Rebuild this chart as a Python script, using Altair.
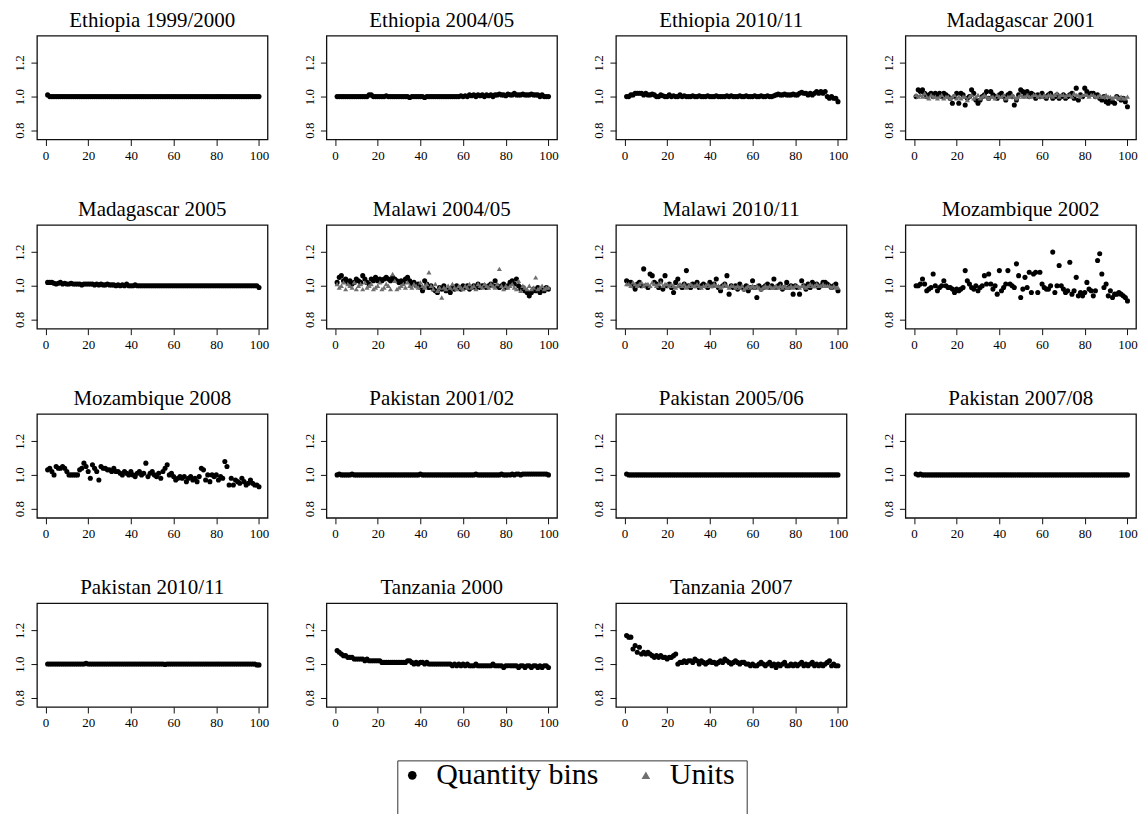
import altair as alt
import pandas as pd

titles = ["Ethiopia 1999/2000", "Ethiopia 2004/05", "Ethiopia 2010/11", "Madagascar 2001",
          "Madagascar 2005", "Malawi 2004/05", "Malawi 2010/11", "Mozambique 2002",
          "Mozambique 2008", "Pakistan 2001/02", "Pakistan 2005/06", "Pakistan 2007/08",
          "Pakistan 2010/11", "Tanzania 2000", "Tanzania 2007"]

percentiles = list(range(1, 101))

eth_1999 = [1.01, 1.00, 1.00, 1.00, 1.00, 1.00, 1.00, 1.00, 1.00, 1.00,
            1.00, 1.00, 1.00, 1.00, 1.00, 1.00, 1.00, 1.00, 1.00, 1.00,
            1.00, 1.00, 1.00, 1.00, 1.00, 1.00, 1.00, 1.00, 1.00, 1.00,
            1.00, 1.00, 1.00, 1.00, 1.00, 1.00, 1.00, 1.00, 1.00, 1.00,
            1.00, 1.00, 1.00, 1.00, 1.00, 1.00, 1.00, 1.00, 1.00, 1.00,
            1.00, 1.00, 1.00, 1.00, 1.00, 1.00, 1.00, 1.00, 1.00, 1.00,
            1.00, 1.00, 1.00, 1.00, 1.00, 1.00, 1.00, 1.00, 1.00, 1.00,
            1.00, 1.00, 1.00, 1.00, 1.00, 1.00, 1.00, 1.00, 1.00, 1.00,
            1.00, 1.00, 1.00, 1.00, 1.00, 1.00, 1.00, 1.00, 1.00, 1.00,
            1.00, 1.00, 1.00, 1.00, 1.00, 1.00, 1.00, 1.00, 1.00, 1.00]

eth_2004 = [1.00, 1.00, 1.00, 1.00, 1.00, 1.00, 1.00, 1.00, 1.00, 1.00,
            1.00, 1.00, 1.00, 1.00, 1.00, 1.01, 1.01, 1.00, 1.00, 1.00,
            1.00, 1.00, 1.00, 1.005, 1.00, 1.00, 1.00, 1.00, 1.00, 1.00,
            1.00, 1.00, 1.00, 1.00, 0.995, 1.00, 1.00, 1.00, 1.00, 1.00,
            1.00, 0.995, 1.00, 1.00, 1.00, 1.00, 1.00, 1.00, 1.00, 1.00,
            1.00, 1.00, 1.00, 1.00, 1.00, 1.00, 1.00, 1.00, 1.005, 1.00,
            1.005, 1.00, 1.01, 1.005, 1.01, 1.00, 1.01, 1.005, 1.01, 1.00,
            1.01, 1.005, 1.01, 1.00, 1.01, 1.01, 1.015, 1.01, 1.01, 1.005,
            1.015, 1.01, 1.01, 1.02, 1.01, 1.01, 1.01, 1.015, 1.01, 1.01,
            1.01, 1.015, 1.01, 1.01, 1.01, 1.00, 1.01, 1.00, 1.00, 1.00]

eth_2010 = [1.00, 1.00, 1.01, 1.01, 1.02, 1.02, 1.02, 1.02, 1.01, 1.02,
            1.01, 1.01, 1.015, 1.01, 1.00, 1.00, 1.01, 1.005, 1.00, 1.00,
            1.01, 1.00, 1.005, 1.00, 1.00, 1.01, 1.00, 1.005, 1.00, 1.00,
            1.00, 1.005, 1.00, 1.00, 1.005, 1.00, 1.00, 1.00, 1.005, 1.00,
            1.00, 1.00, 1.005, 1.00, 1.00, 1.00, 1.00, 1.005, 1.00, 1.005,
            1.00, 1.00, 1.00, 1.005, 1.00, 1.00, 1.005, 1.00, 1.00, 1.00,
            1.005, 1.00, 1.00, 1.005, 1.00, 1.00, 1.005, 1.00, 1.00, 1.005,
            1.01, 1.015, 1.01, 1.01, 1.015, 1.01, 1.01, 1.01, 1.015, 1.01,
            1.01, 1.02, 1.025, 1.02, 1.02, 1.01, 1.02, 1.01, 1.02, 1.03,
            1.02, 1.03, 1.02, 1.03, 1.00, 0.99, 1.00, 0.99, 0.99, 0.97]

mad_2001 = [1.00, 1.04, 1.03, 1.04, 1.02, 1.00, 1.01, 1.02, 1.00, 1.02,
            1.01, 1.02, 1.00, 1.02, 1.01, 1.00, 0.99, 0.96, 1.00, 1.02,
            0.96, 1.02, 1.01, 0.95, 0.99, 1.00, 1.04, 1.02, 0.98, 0.96,
            0.98, 1.00, 1.01, 1.03, 0.99, 1.03, 1.01, 1.00, 0.99, 1.01,
            1.02, 1.00, 0.98, 1.01, 1.02, 1.00, 0.95, 0.98, 1.01, 1.04,
            1.03, 1.01, 1.03, 1.00, 1.02, 1.01, 0.99, 1.01, 1.00, 1.02,
            1.00, 0.99, 1.01, 1.02, 0.99, 1.00, 1.01, 0.99, 1.00, 1.01,
            0.99, 1.00, 1.01, 1.02, 0.99, 1.05, 0.98, 1.01, 1.00, 1.05,
            1.03, 1.01, 1.02, 1.02, 1.00, 1.01, 0.99, 0.98, 1.00, 0.97,
            0.96, 0.98, 0.97, 0.96, 1.00, 0.99, 0.98, 0.99, 0.97, 0.94]

mad_2005 = [1.02, 1.02, 1.02, 1.015, 1.01, 1.015, 1.02, 1.01, 1.015, 1.01,
            1.01, 1.015, 1.01, 1.01, 1.01, 1.01, 1.005, 1.01, 1.01, 1.01,
            1.01, 1.01, 1.005, 1.01, 1.005, 1.01, 1.005, 1.005, 1.01, 1.005,
            1.005, 1.005, 1.00, 1.005, 1.00, 1.005, 1.00, 1.01, 1.00, 1.00,
            1.00, 1.005, 1.00, 1.00, 1.00, 1.00, 1.00, 1.00, 1.00, 1.00,
            1.00, 1.00, 1.00, 1.00, 1.00, 1.00, 1.00, 1.00, 1.00, 1.00,
            1.00, 1.00, 1.00, 1.00, 1.00, 1.00, 1.00, 1.00, 1.00, 1.00,
            1.00, 1.00, 1.00, 1.00, 1.00, 1.00, 1.00, 1.00, 1.00, 1.00,
            1.00, 1.00, 1.00, 1.00, 1.00, 1.00, 1.00, 1.00, 1.00, 1.00,
            1.00, 1.00, 1.00, 1.00, 1.00, 1.00, 1.00, 1.00, 1.00, 0.99]

mal_2004 = [1.02, 1.05, 1.06, 1.03, 1.04, 1.02, 1.03, 1.01, 1.02, 1.04,
            1.03, 1.02, 1.06, 1.04, 1.02, 1.01, 1.04, 1.03, 1.05, 1.03,
            1.04, 1.03, 1.04, 1.05, 1.04, 1.03, 1.05, 1.04, 1.03, 1.02,
            1.03, 1.02, 1.04, 1.05, 1.03, 1.01, 1.02, 1.00, 1.01, 0.99,
            0.97, 1.03, 1.01, 0.99, 1.00, 0.98, 0.97, 0.96, 0.99, 0.98,
            1.00, 0.97, 0.98, 0.96, 0.99, 0.98, 1.00, 0.99, 0.98, 1.00,
            0.99, 1.00, 0.98, 0.99, 1.00, 0.99, 1.01, 0.99, 1.00, 1.00,
            0.99, 1.00, 1.01, 1.00, 1.03, 1.00, 0.99, 1.00, 1.01, 0.99,
            1.00, 1.02, 1.03, 1.01, 1.04, 1.00, 0.98, 0.99, 0.97, 0.96,
            0.94, 0.96, 0.98, 0.97, 0.99, 0.96, 0.98, 0.97, 0.99, 0.98]

mal_2010 = [1.03, 1.02, 1.02, 1.00, 0.98, 1.01, 1.02, 1.00, 1.10, 1.00,
            0.99, 1.07, 1.06, 1.02, 1.01, 0.99, 1.03, 0.98, 1.06, 1.00,
            1.01, 0.99, 0.96, 1.02, 1.04, 1.00, 0.99, 1.01, 1.09, 1.00,
            0.99, 1.01, 1.00, 1.02, 0.99, 1.00, 1.01, 1.00, 0.99, 1.02,
            1.00, 1.01, 1.04, 0.99, 0.97, 1.00, 1.01, 1.06, 0.95, 1.00,
            0.99, 1.00, 0.98, 1.01, 0.99, 0.98, 1.00, 0.97, 0.99, 1.03,
            0.99, 0.93, 1.00, 0.98, 0.99, 1.00, 1.01, 0.99, 1.00, 1.04,
            0.99, 1.00, 1.01, 0.98, 0.99, 1.02, 0.99, 1.00, 0.95, 1.00,
            0.99, 0.95, 1.03, 1.00, 0.98, 1.01, 0.99, 1.02, 1.00, 1.01,
            0.99, 1.00, 1.02, 1.02, 1.01, 1.00, 0.99, 1.00, 1.01, 0.97]

moz_2002 = [1.00, 1.00, 1.01, 1.04, 1.01, 0.97, 0.98, 0.99, 1.07, 1.00,
            0.97, 0.99, 1.00, 1.03, 1.00, 0.99, 0.99, 0.98, 0.96, 0.98,
            0.97, 0.98, 0.99, 1.09, 1.03, 1.01, 0.99, 0.98, 1.00, 0.97,
            0.99, 1.00, 1.06, 1.01, 1.07, 1.01, 0.98, 1.00, 0.95, 1.09,
            0.97, 0.99, 1.01, 1.09, 1.01, 1.00, 0.99, 1.13, 1.06, 0.93,
            0.98, 1.05, 0.99, 1.08, 0.96, 1.07, 1.08, 0.96, 1.08, 1.01,
            0.99, 0.98, 0.98, 1.00, 1.20, 0.96, 1.00, 1.12, 1.00, 0.98,
            0.96, 0.97, 1.14, 0.95, 0.97, 1.05, 0.94, 0.96, 0.94, 0.96,
            1.02, 0.98, 0.97, 0.94, 0.97, 1.15, 1.19, 1.07, 0.99, 1.01,
            0.94, 0.97, 0.93, 0.95, 0.95, 0.96, 0.95, 0.94, 0.93, 0.91]

moz_2008 = [1.03, 1.04, 1.02, 1.00, 1.05, 1.04, 1.04, 1.05, 1.04, 1.02,
            1.00, 1.00, 1.00, 1.00, 1.00, 1.03, 1.04, 1.07, 1.05, 1.02,
            0.98, 1.06, 1.04, 1.02, 0.97, 1.05, 1.04, 1.04, 1.03, 1.03,
            1.02, 1.04, 1.02, 1.02, 1.01, 1.00, 1.02, 1.01, 1.00, 1.02,
            1.00, 0.99, 1.01, 1.02, 1.00, 1.01, 1.07, 0.99, 1.01, 1.02,
            1.00, 0.99, 1.01, 0.98, 1.02, 1.04, 1.06, 1.00, 1.01, 0.99,
            0.97, 0.98, 0.99, 0.98, 0.99, 0.96, 0.98, 0.99, 0.97, 0.98,
            0.96, 0.99, 1.04, 1.03, 0.97, 1.00, 0.96, 1.00, 0.99, 1.00,
            0.97, 0.99, 0.98, 1.08, 1.05, 0.94, 0.98, 0.94, 0.97, 0.96,
            0.95, 0.98, 0.96, 0.94, 0.95, 0.97, 0.95, 0.94, 0.94, 0.93]

pak_2001 = [1.00, 1.005, 1.00, 1.00, 1.00, 1.00, 1.00, 1.005, 1.00, 1.00,
            1.00, 1.00, 1.00, 1.00, 1.00, 1.00, 1.00, 1.00, 1.00, 1.00,
            1.00, 1.00, 1.00, 1.00, 1.00, 1.00, 1.00, 1.00, 1.00, 1.00,
            1.00, 1.00, 1.00, 1.00, 1.00, 1.00, 1.00, 1.00, 1.00, 1.005,
            1.00, 1.00, 1.00, 1.00, 1.00, 1.00, 1.00, 1.00, 1.00, 1.00,
            1.00, 1.00, 1.00, 1.00, 1.00, 1.00, 1.00, 1.00, 1.00, 1.00,
            1.00, 1.00, 1.00, 1.00, 1.00, 1.005, 1.00, 1.00, 1.00, 1.00,
            1.00, 1.00, 1.00, 1.00, 1.00, 1.00, 1.00, 1.005, 1.00, 1.00,
            1.00, 1.00, 1.005, 1.00, 1.005, 1.005, 1.00, 1.005, 1.005, 1.005,
            1.005, 1.005, 1.005, 1.005, 1.005, 1.005, 1.005, 1.005, 1.005, 1.00]

pak_2005 = [1.005, 1.00, 1.00, 1.00, 1.00, 1.00, 1.00, 1.00, 1.00, 1.00,
            1.00, 1.00, 1.00, 1.00, 1.00, 1.00, 1.00, 1.00, 1.00, 1.00,
            1.00, 1.00, 1.00, 1.00, 1.00, 1.00, 1.00, 1.00, 1.00, 1.00,
            1.00, 1.00, 1.00, 1.00, 1.00, 1.00, 1.00, 1.00, 1.00, 1.00,
            1.00, 1.00, 1.00, 1.00, 1.00, 1.00, 1.00, 1.00, 1.00, 1.00,
            1.00, 1.00, 1.00, 1.00, 1.00, 1.00, 1.00, 1.00, 1.00, 1.00,
            1.00, 1.00, 1.00, 1.00, 1.00, 1.00, 1.00, 1.00, 1.00, 1.00,
            1.00, 1.00, 1.00, 1.00, 1.00, 1.00, 1.00, 1.00, 1.00, 1.00,
            1.00, 1.00, 1.00, 1.00, 1.00, 1.00, 1.00, 1.00, 1.00, 1.00,
            1.00, 1.00, 1.00, 1.00, 1.00, 1.00, 1.00, 1.00, 1.00, 1.00]

pak_2007 = [1.005, 1.00, 1.005, 1.00, 1.00, 1.00, 1.00, 1.00, 1.00, 1.00,
            1.00, 1.00, 1.00, 1.00, 1.00, 1.00, 1.00, 1.00, 1.00, 1.00,
            1.00, 1.00, 1.00, 1.00, 1.00, 1.00, 1.00, 1.00, 1.00, 1.00,
            1.00, 1.00, 1.00, 1.00, 1.00, 1.00, 1.00, 1.00, 1.00, 1.00,
            1.00, 1.00, 1.00, 1.00, 1.00, 1.00, 1.00, 1.00, 1.00, 1.00,
            1.00, 1.00, 1.00, 1.00, 1.00, 1.00, 1.00, 1.00, 1.00, 1.00,
            1.00, 1.00, 1.00, 1.00, 1.00, 1.00, 1.00, 1.00, 1.00, 1.00,
            1.00, 1.00, 1.00, 1.00, 1.00, 1.00, 1.00, 1.00, 1.00, 1.00,
            1.00, 1.00, 1.00, 1.00, 1.00, 1.00, 1.00, 1.00, 1.00, 1.00,
            1.00, 1.00, 1.00, 1.00, 1.00, 1.00, 1.00, 1.00, 1.00, 1.00]

pak_2010 = [1.00, 1.00, 1.00, 1.00, 1.00, 1.00, 1.00, 1.00, 1.00, 1.00,
            1.00, 1.00, 1.00, 1.00, 1.00, 1.00, 1.00, 1.00, 1.005, 1.00,
            1.00, 1.00, 1.00, 1.00, 1.00, 1.00, 1.00, 1.00, 1.00, 1.00,
            1.00, 1.00, 1.00, 1.00, 1.00, 1.00, 1.00, 1.00, 1.00, 1.00,
            1.00, 1.00, 1.00, 1.00, 1.00, 1.00, 1.00, 1.00, 1.00, 1.00,
            1.00, 1.00, 1.00, 1.00, 1.00, 0.998, 1.00, 1.00, 1.00, 1.00,
            1.00, 1.00, 1.00, 1.00, 1.00, 1.00, 1.00, 1.00, 1.00, 1.00,
            1.00, 1.00, 1.00, 1.00, 1.00, 1.00, 1.00, 1.00, 1.00, 1.00,
            1.00, 1.00, 1.00, 1.00, 1.00, 1.00, 1.00, 1.00, 1.00, 1.00,
            1.00, 1.00, 1.00, 1.00, 1.00, 1.00, 1.00, 1.00, 0.995, 0.995]

tan_2000 = [1.08, 1.07, 1.06, 1.05, 1.05, 1.04, 1.04, 1.04, 1.03, 1.03,
            1.03, 1.03, 1.03, 1.02, 1.03, 1.02, 1.02, 1.02, 1.02, 1.02,
            1.02, 1.01, 1.01, 1.01, 1.01, 1.01, 1.01, 1.01, 1.01, 1.01,
            1.01, 1.01, 1.01, 1.02, 1.02, 1.01, 1.00, 1.01, 1.00, 1.01,
            1.01, 1.00, 1.01, 1.00, 1.00, 1.00, 1.00, 1.00, 1.00, 1.00,
            1.00, 1.00, 1.00, 1.00, 0.99, 1.00, 0.99, 1.00, 0.99, 1.00,
            0.99, 1.00, 0.99, 0.99, 0.99, 1.00, 0.99, 0.99, 0.99, 0.99,
            0.99, 0.99, 0.99, 1.00, 0.99, 0.99, 0.99, 0.99, 0.98, 0.99,
            0.99, 0.99, 0.99, 0.99, 0.99, 0.98, 0.99, 0.99, 0.98, 0.99,
            0.99, 0.98, 0.99, 0.99, 0.98, 0.99, 0.98, 0.99, 0.99, 0.98]

tan_2007 = [1.17, 1.16, 1.16, 1.09, 1.11, 1.07, 1.10, 1.06, 1.07, 1.06,
            1.07, 1.06, 1.05, 1.04, 1.05, 1.04, 1.05, 1.04, 1.04, 1.03,
            1.04, 1.04, 1.05, 1.06, 1.00, 1.01, 1.01, 1.02, 1.01, 1.02,
            1.02, 1.01, 1.03, 1.02, 1.00, 1.02, 1.01, 1.00, 1.01, 1.02,
            1.01, 1.01, 1.00, 1.01, 1.02, 1.01, 1.03, 1.02, 1.01, 1.00,
            1.01, 1.02, 1.01, 1.00, 1.01, 1.01, 1.00, 1.00, 0.99, 1.00,
            0.99, 0.99, 1.00, 1.01, 1.00, 0.99, 1.00, 1.01, 0.99, 1.00,
            0.98, 1.00, 0.99, 1.00, 1.01, 0.99, 0.99, 1.00, 0.99, 1.00,
            0.99, 1.00, 1.01, 0.99, 1.00, 0.99, 1.00, 1.01, 0.99, 1.00,
            0.99, 1.00, 0.99, 1.00, 1.01, 1.02, 0.99, 1.00, 0.99, 0.99]

# "Units" series (grey triangles)
mad_2001_units = [1.01, 1.00, 1.01, 1.00, 1.02, 1.00, 0.99, 1.01, 1.00, 1.00,
                  0.99, 1.00, 1.01, 0.99, 1.00, 1.00, 0.99, 1.00, 1.01, 0.99,
                  1.00, 0.99, 1.00, 1.00, 0.98, 1.00, 1.01, 0.99, 1.00, 1.01,
                  0.99, 1.00, 1.01, 1.00, 0.99, 1.00, 1.00, 0.99, 1.01, 1.00,
                  1.00, 1.01, 0.99, 1.00, 1.00, 1.01, 1.00, 0.99, 1.00, 1.01,
                  1.00, 1.00, 1.01, 1.00, 1.00, 1.01, 1.01, 1.00, 1.01, 1.00,
                  1.01, 1.00, 1.01, 1.01, 1.00, 1.01, 1.02, 1.00, 1.01, 1.01,
                  1.00, 1.01, 1.01, 1.00, 1.02, 1.01, 1.01, 1.00, 1.01, 1.01,
                  1.01, 1.00, 1.01, 1.01, 1.00, 1.00, 1.01, 1.00, 1.00, 1.01,
                  1.00, 1.00, 0.99, 1.00, 1.00, 0.99, 1.00, 0.99, 0.99, 1.00]

mal_2004_units = [1.01, 0.99, 1.00, 1.02, 0.98, 1.01, 1.00, 0.99, 1.02, 0.98,
                  1.00, 1.01, 0.98, 1.02, 0.99, 1.00, 1.01, 0.98, 0.99, 1.00,
                  1.02, 0.98, 0.99, 1.01, 1.00, 0.98, 1.07, 1.03, 0.98, 0.99,
                  1.00, 1.01, 0.99, 1.02, 1.00, 0.99, 1.01, 1.00, 0.99, 1.02,
                  1.00, 0.99, 1.01, 1.08, 1.00, 0.98, 1.01, 0.97, 0.99, 0.93,
                  0.99, 0.98, 1.00, 0.99, 1.01, 0.99, 0.98, 1.00, 0.99, 0.98,
                  1.00, 0.99, 1.01, 0.99, 1.00, 0.98, 1.01, 1.00, 0.99, 1.01,
                  1.00, 0.99, 1.01, 1.00, 0.99, 1.01, 1.10, 1.00, 0.98, 1.00,
                  0.99, 1.00, 1.01, 0.99, 0.98, 1.03, 0.97, 1.00, 0.99, 0.98,
                  1.00, 0.98, 0.99, 1.05, 0.98, 0.99, 1.00, 0.98, 0.99, 0.99]

mal_2010_units = [1.01, 1.01, 1.00, 1.02, 1.01, 1.00, 1.01, 1.02, 1.00, 1.01,
                  1.01, 1.00, 1.02, 1.01, 1.00, 1.01, 1.02, 1.00, 1.01, 1.01,
                  1.00, 1.01, 1.00, 0.99, 1.00, 1.01, 1.00, 1.01, 0.99, 1.00,
                  1.01, 1.00, 1.00, 1.01, 1.00, 0.99, 1.00, 1.00, 1.01, 1.00,
                  1.00, 1.01, 1.00, 1.00, 0.99, 1.00, 1.01, 1.00, 0.99, 1.00,
                  1.00, 0.99, 1.00, 0.99, 1.00, 0.98, 0.99, 1.00, 0.99, 1.00,
                  0.99, 1.00, 0.99, 0.98, 0.99, 1.00, 0.99, 1.00, 0.99, 0.99,
                  1.00, 0.99, 1.00, 0.99, 1.00, 0.99, 0.99, 1.00, 0.99, 1.00,
                  1.00, 0.99, 1.00, 1.00, 0.99, 1.00, 1.01, 1.00, 1.00, 1.01,
                  1.00, 1.00, 1.01, 1.00, 1.00, 1.00, 0.99, 1.00, 0.99, 0.99]

quantity_series = [eth_1999, eth_2004, eth_2010, mad_2001, mad_2005, mal_2004, mal_2010,
                   moz_2002, moz_2008, pak_2001, pak_2005, pak_2007, pak_2010, tan_2000, tan_2007]
units_series = {"Madagascar 2001": mad_2001_units,
                "Malawi 2004/05": mal_2004_units,
                "Malawi 2010/11": mal_2010_units}

series_names = ["Quantity bins", "Units"]

rows = []
for title, vals in zip(titles, quantity_series):
    for p, v in zip(percentiles, vals):
        rows.append({"panel": title, "pct": p, "ratio": v, "series": series_names[0]})
    if title in units_series:
        for p, v in zip(percentiles, units_series[title]):
            rows.append({"panel": title, "pct": p, "ratio": v, "series": series_names[1]})
df = pd.DataFrame(rows)

SERIF = "Liberation Serif"

color_scale = alt.Scale(domain=series_names, range=["#000000", "#6f6f6f"])
shape_scale = alt.Scale(domain=series_names, range=["circle", "triangle-up"])

legend = alt.Legend(title=" ", titleOrient="right", titleFontSize=60, titlePadding=12,
                    titleAnchor="start", titleBaseline="top",
                    orient="none", legendX=361, legendY=726, direction="horizontal",
                    labelFont=SERIF, labelFontSize=30, labelColor="black",
                    labelBaseline="middle", labelOffset=9, labelLimit=0,
                    symbolSize=75, symbolStrokeWidth=0, columnPadding=32,
                    strokeColor="#333333", fillColor="white", padding=0,
                    cornerRadius=0)


def panel(title):
    return alt.Chart(df).transform_filter(
        alt.FieldEqualPredicate(field="panel", equal=title)
    ).mark_point(filled=True, opacity=1, size=26).encode(
        x=alt.X("pct:Q",
                scale=alt.Scale(domain=[-4, 104], nice=False, zero=False),
                axis=alt.Axis(values=[0, 20, 40, 60, 80, 100], title=None, labelFlush=False)),
        y=alt.Y("ratio:Q",
                scale=alt.Scale(domain=[0.745, 1.362], nice=False, zero=False),
                axis=alt.Axis(values=[0.8, 1.0, 1.2], format=".1f", labelAngle=270,
                              title=None, labelFlush=False)),
        color=alt.Color("series:N", scale=color_scale, legend=legend),
        shape=alt.Shape("series:N", scale=shape_scale, legend=legend),
    ).properties(
        width=231, height=104,
        title=alt.TitleParams(title, font=SERIF, fontSize=21, fontWeight="normal",
                              color="black", offset=5, anchor="middle")
    )


chart = alt.concat(*[panel(t) for t in titles], columns=4,
                   spacing={"row": 85.5, "column": 59}, bounds="flush").properties(
    padding={"left": 5, "top": 0, "right": 0, "bottom": 0},
    background="white"
).configure(
    font=SERIF
).configure_view(
    stroke="#111111", strokeWidth=1.3
).configure_axis(
    domain=False, grid=False, tickColor="#111111", tickSize=6, tickWidth=1,
    labelFont=SERIF, labelFontSize=13, labelColor="black", labelPadding=4
).configure_legend(
    labelFont=SERIF, labelFontSize=30, labelColor="black", labelLimit=0,
    symbolSize=75
)

chart.save("out.html", embed_options={"renderer": "svg", "actions": False})
